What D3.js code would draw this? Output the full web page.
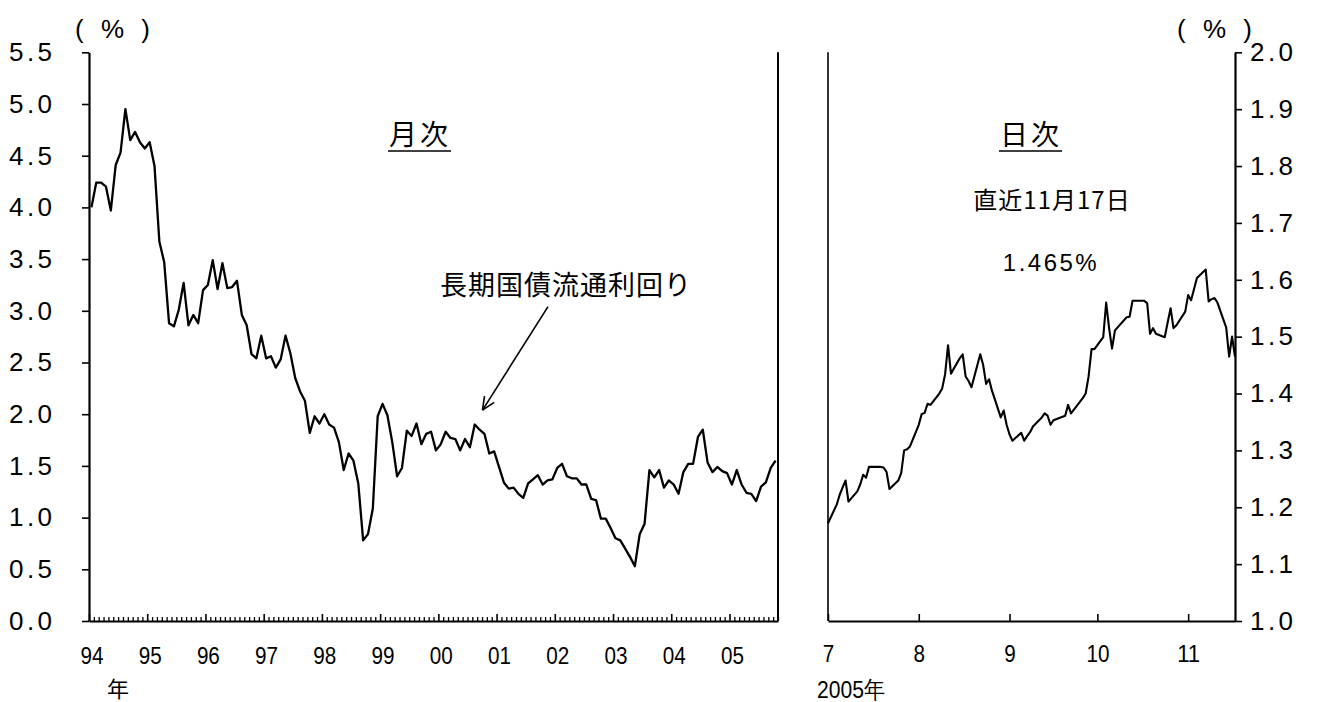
<!DOCTYPE html>
<html><head><meta charset="utf-8">
<script src="https://cdn.jsdelivr.net/npm/d3@7"></script>
<style>
body{margin:0;background:#fff;}
svg{display:block;background:#fff;}
.num{font-family:"Liberation Sans",Arial,sans-serif;}
.jp{font-family:"Noto Sans CJK JP","Noto Sans",sans-serif;}
</style></head><body>
<svg id="c" width="1320" height="702"></svg>
<script>
// ---------- data ----------
// Monthly 10y JGB yield, Jan 1994 .. Oct 2005 (%)
const monthlyValues = [
 4.00,4.24,4.24,4.20,3.97,4.41,4.53,4.95,4.65,4.73,4.63,4.57,
 4.63,4.40,3.67,3.47,2.88,2.85,3.01,3.27,2.86,2.96,2.88,3.20,
 3.25,3.49,3.21,3.46,3.22,3.23,3.29,2.96,2.86,2.58,2.54,2.76,
 2.54,2.56,2.45,2.53,2.76,2.59,2.35,2.22,2.13,1.82,1.98,1.91,
 2.00,1.90,1.87,1.73,1.46,1.62,1.55,1.33,0.78,0.84,1.09,1.98,
 2.10,1.99,1.73,1.40,1.48,1.84,1.79,1.91,1.71,1.81,1.83,1.65,
 1.71,1.83,1.77,1.76,1.65,1.76,1.68,1.90,1.85,1.81,1.62,1.64,
 1.49,1.34,1.28,1.29,1.23,1.19,1.33,1.37,1.41,1.32,1.36,1.37,
 1.48,1.52,1.40,1.38,1.38,1.32,1.32,1.18,1.17,0.99,0.99,0.90,
 0.80,0.78,0.70,0.62,0.53,0.84,0.94,1.46,1.39,1.46,1.29,1.36,
 1.32,1.23,1.44,1.52,1.52,1.78,1.85,1.53,1.44,1.49,1.45,1.43,
 1.32,1.46,1.32,1.24,1.23,1.16,1.30,1.34,1.48,1.55
];
const yearLabels = ["94","95","96","97","98","99","00","01","02","03","04","05"];
const leftYTicks = [0,0.5,1.0,1.5,2.0,2.5,3.0,3.5,4.0,4.5,5.0,5.5];

// Daily 10y JGB yield, 2005 (%)
const dailyDates = [
 "07-01","07-04","07-05","07-06","07-07","07-08","07-11","07-12","07-13","07-14","07-15",
 "07-19","07-20","07-21","07-22","07-25","07-26","07-27","07-28","07-29",
 "08-01","08-02","08-03","08-04","08-05","08-08","08-09","08-10","08-11","08-12",
 "08-15","08-16","08-17","08-18","08-19","08-22","08-23","08-24","08-25","08-26",
 "08-29","08-30","08-31","09-01","09-02","09-05","09-06","09-07","09-08","09-09",
 "09-12","09-13","09-14","09-15","09-16","09-20","09-21","09-22","09-26","09-27",
 "09-28","09-29","09-30","10-03","10-04","10-05","10-06","10-07","10-11","10-12",
 "10-13","10-14","10-17","10-18","10-19","10-20","10-21","10-24","10-25","10-26",
 "10-27","10-28","10-31","11-01","11-02","11-04","11-07","11-08","11-09","11-10",
 "11-11","11-14","11-15","11-16","11-17"
];
const dailyValues = [
 1.172,1.205,1.222,1.235,1.247,1.210,1.228,1.240,1.257,1.252,1.271,
 1.271,1.270,1.262,1.232,1.247,1.260,1.300,1.302,1.307,
 1.345,1.364,1.366,1.382,1.380,1.400,1.409,1.434,1.485,1.435,
 1.462,1.469,1.430,1.422,1.411,1.469,1.450,1.417,1.425,1.405,
 1.358,1.370,1.345,1.328,1.317,1.331,1.317,1.325,1.332,1.342,
 1.358,1.365,1.361,1.345,1.353,1.361,1.380,1.365,1.392,1.400,
 1.430,1.478,1.478,1.499,1.560,1.515,1.479,1.511,1.534,1.535,
 1.563,1.563,1.563,1.559,1.505,1.515,1.505,1.499,1.525,1.550,
 1.515,1.520,1.544,1.573,1.564,1.603,1.618,1.562,1.566,1.568,
 1.560,1.516,1.465,1.500,1.465
];
const rightYTicks = [1.0,1.1,1.2,1.3,1.4,1.5,1.6,1.7,1.8,1.9,2.0];
const monthTicks = ["07-01","08-01","09-01","10-01","11-01"];
const monthLabels = ["7","8","9","10","11"];

// ---------- drawing ----------
const svg = d3.select("#c");
const parse = s => new Date(2005, +s.slice(0,2)-1, +s.slice(3,5));

const yTop = 52.3, yBot = 621;
const xL = d3.scaleLinear().domain([0, 142]).range([89, 778]);
const yL = d3.scaleLinear().domain([0, 5.5]).range([yBot, yTop]);
const xR = d3.scaleTime().domain([parse("07-01"), parse("11-17")]).range([828, 1235]);
const yR = d3.scaleLinear().domain([1.0, 2.0]).range([yBot, yTop]);

function styleAxis(g, sw){
  g.select(".domain").attr("stroke","#000").attr("stroke-width",sw);
  g.selectAll(".tick line").attr("stroke","#000").attr("stroke-width",1.6);
  g.attr("font-family",null).attr("font-size",null);
}
function yLabelStyle(g){
  g.selectAll("text").attr("class","num").attr("font-size",26)
    .attr("textLength",43).attr("lengthAdjust","spacing");
}
function xLabelStyle(g){
  g.selectAll("text").attr("class","num").attr("font-size",24)
    .attr("textLength",function(){ return 11.5*this.textContent.length; })
    .attr("lengthAdjust","spacingAndGlyphs");
}

// Left panel y axis
const gyl = svg.append("g").attr("transform",`translate(89,0)`)
  .call(d3.axisLeft(yL).tickValues(leftYTicks).tickSize(7).tickSizeOuter(0).tickPadding(30)
        .tickFormat(d3.format(".1f")));
styleAxis(gyl, 2.2);
yLabelStyle(gyl);

// Left panel x axis: minor (month) & major (year) ticks, inward
const monthIdx = d3.range(0, 143);
const gxl1 = svg.append("g").attr("transform",`translate(0,${yBot})`)
  .call(d3.axisBottom(xL).tickValues(monthIdx.filter(k=>k%12!==0)).tickSize(-4).tickSizeOuter(0).tickFormat(""));
styleAxis(gxl1, 2.2);
gxl1.selectAll(".tick line").attr("stroke-width",1.3);
const gxl2 = svg.append("g").attr("transform",`translate(0,${yBot})`)
  .call(d3.axisBottom(xL).tickValues(monthIdx.filter(k=>k%12===0)).tickSize(-7).tickSizeOuter(0).tickFormat(""));
styleAxis(gxl2, 2.2);
gxl2.select(".domain").remove();
const gxl3 = svg.append("g").attr("transform",`translate(0,${yBot})`)
  .call(d3.axisBottom(xL).tickValues(yearLabels.map((_,n)=>12*n+0.5)).tickSize(0).tickPadding(26)
        .tickFormat((d,i)=>yearLabels[i]));
gxl3.select(".domain").remove();
gxl3.attr("font-family",null).attr("font-size",null);
xLabelStyle(gxl3);

// Left panel right border
svg.append("line").attr("x1",xL(142)).attr("x2",xL(142)).attr("y1",yL(5.5)).attr("y2",yBot)
  .attr("stroke","#000").attr("stroke-width",2);

// Monthly line
svg.append("path").datum(monthlyValues)
  .attr("fill","none").attr("stroke","#000").attr("stroke-width",2.3).attr("stroke-linejoin","round")
  .attr("d", d3.line().x((d,i)=>xL(i+0.5)).y(d=>yL(d)));

// Right panel y axis (right side)
const gyr = svg.append("g").attr("transform",`translate(1235,0)`)
  .call(d3.axisRight(yR).tickValues(rightYTicks).tickSize(7).tickSizeOuter(0).tickPadding(8)
        .tickFormat(d3.format(".1f")));
styleAxis(gyr, 2.2);
yLabelStyle(gyr);

// Right panel x axis
const gxr = svg.append("g").attr("transform",`translate(0,${yBot})`)
  .call(d3.axisBottom(xR).tickValues(monthTicks.map(parse)).tickSize(-7).tickSizeOuter(0).tickPadding(24)
        .tickFormat((d,i)=>monthLabels[i]));
styleAxis(gxr, 2.2);
xLabelStyle(gxr);

// Right panel left border
svg.append("line").attr("x1",xR.range()[0]).attr("x2",xR.range()[0]).attr("y1",yR(2.0)).attr("y2",yBot)
  .attr("stroke","#000").attr("stroke-width",1.6);

// Daily line
svg.append("path").datum(dailyDates.map((d,i)=>[parse(d), dailyValues[i]]))
  .attr("fill","none").attr("stroke","#000").attr("stroke-width",2.1).attr("stroke-linejoin","round")
  .attr("d", d3.line().x(d=>xR(d[0])).y(d=>yR(d[1])));

// ---------- texts ----------
function txt(x,y,s,cls,size,anchor,ls){
  return svg.append("text").attr("x",x).attr("y",y).attr("class",cls).attr("font-size",size)
    .attr("text-anchor",anchor||"start").attr("letter-spacing",ls||0).attr("fill","#000").text(s);
}
txt(75,38,"( % )","num",26,"start",5);
txt(1177,38,"( % )","num",26,"start",5);
txt(107,697,"年","jp",22);
txt(817,698,"2005年","num",24).attr("textLength",68).attr("lengthAdjust","spacingAndGlyphs");

// panel titles
txt(389,145,"月次","jp",28,"start",3);
svg.append("line").attr("x1",388).attr("x2",451).attr("y1",151).attr("y2",151).attr("stroke","#000").attr("stroke-width",1.6);
txt(1000,145,"日次","jp",28,"start",3);
svg.append("line").attr("x1",999).attr("x2",1062).attr("y1",151).attr("y2",151).attr("stroke","#000").attr("stroke-width",1.6);
txt(1052,209,"直近11月17日","jp",24,"middle",1);
txt(1051,271,"1.465%","num",24,"middle",2.5);

// annotation
txt(440,295,"長期国債流通利回り","jp",27,"start",1);
const tip = [xL(81.1), yL(2.04)], tail = [xL(94.6), yL(3.04)];
svg.append("line").attr("x1",tail[0]).attr("y1",tail[1]).attr("x2",tip[0]).attr("y2",tip[1])
  .attr("stroke","#000").attr("stroke-width",1.6);
const ang = Math.atan2(tail[1]-tip[1], tail[0]-tip[0]);
[ -0.42, 0.42 ].forEach(a=>{
  svg.append("line").attr("x1",tip[0]).attr("y1",tip[1])
    .attr("x2",tip[0]+14*Math.cos(ang+a)).attr("y2",tip[1]+14*Math.sin(ang+a))
    .attr("stroke","#000").attr("stroke-width",1.6);
});
</script>
</body></html>
